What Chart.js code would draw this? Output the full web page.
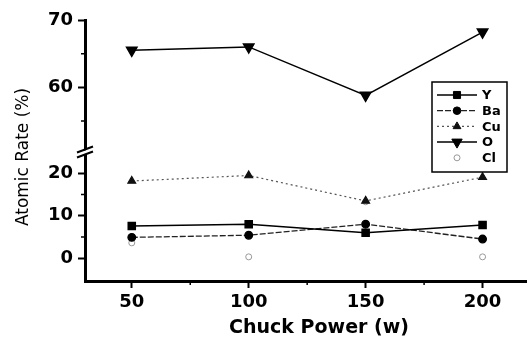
<!DOCTYPE html>
<html>
<head>
<meta charset="utf-8">
<script src="https://cdn.jsdelivr.net/npm/chart.js@4.4.1/dist/chart.umd.min.js"></script>
<style>
  html, body { margin: 0; padding: 0; background: #fff; }
  #chart { display: block; }
</style>
</head>
<body>
<canvas id="chart" width="527" height="340"></canvas>
<script>
// atomic rate (%) vs chuck power (w)
const chuckPower = [50, 100, 150, 200];
const rateY  = [7.6, 8.0, 6.0, 7.8];
const rateBa = [4.9, 5.4, 8.0, 4.5];
const rateCu = [18.2, 19.5, 13.5, 19.1];
const rateO  = [65.5, 66.0, 58.8, 68.2];
const rateCl = [3.6, 0.3, 13.3, 0.3];

const pts = arr => arr.map((v, i) => ({ x: chuckPower[i], y: v }));

const tickFont = { family: 'DejaVu Sans', weight: 'bold', size: 18 };

const datasets = [
    { label: 'Y', data: pts(rateY), yAxisID: 'yBot', borderColor: '#000', borderWidth: 1.5,
      pointStyle: 'rect', pointRadius: 5, pointBackgroundColor: '#000', pointBorderColor: '#000' },
    { label: 'Ba', data: pts(rateBa), yAxisID: 'yBot', borderColor: '#222', borderWidth: 1.3, borderDash: [6, 2],
      pointStyle: 'circle', pointRadius: 3.8, pointBackgroundColor: '#000', pointBorderColor: '#000' },
    { label: 'Cu', data: pts(rateCu), yAxisID: 'yBot', borderColor: '#555', borderWidth: 1.2, borderDash: [2, 3],
      pointStyle: 'triangle', pointRadius: 4.5, pointBackgroundColor: '#111', pointBorderColor: '#111' },
    { label: 'O', data: pts(rateO), yAxisID: 'yTop', borderColor: '#000', borderWidth: 1.5,
      pointStyle: 'triangle', pointRotation: 180, pointRadius: 6, pointBackgroundColor: '#000', pointBorderColor: '#000' },
    { label: 'Cl', data: pts(rateCl), yAxisID: 'yBot', showLine: false,
      pointStyle: 'circle', pointRadius: 3, pointBackgroundColor: '#fff', pointBorderColor: '#999', pointBorderWidth: 1 }
];
datasets.forEach(d => { d.tension = 0; d.fill = false; });

function yAxis(min, max) {
    return {
        type: 'linear', position: 'left', stack: 'rate', stackWeight: 1, min, max,
        ticks: { stepSize: 10, includeBounds: false, color: '#000', font: tickFont, padding: 5 },
        grid: { drawOnChartArea: false, tickLength: 7, tickWidth: 2, tickColor: '#000' },
        border: { width: 3, color: '#000' },
        afterFit(s) { s.width = 85; }
    };
}

// titles, minor ticks, axis break and legend
const decorations = {
    id: 'decorations',
    afterDraw(chart) {
        const ctx = chart.ctx;
        const { x, yTop, yBot } = chart.scales;
        const left = chart.chartArea.left, bottom = chart.chartArea.bottom;
        ctx.save();
        ctx.strokeStyle = '#000';
        ctx.lineWidth = 1.5;

        // minor ticks
        ctx.beginPath();
        [[yTop, 55], [yTop, 65], [yBot, 5], [yBot, 15]].forEach(([s, v]) => {
            const py = s.getPixelForValue(v);
            ctx.moveTo(left - 4, py); ctx.lineTo(left, py);
        });
        [75, 125, 175].forEach(v => {
            const px = x.getPixelForValue(v);
            ctx.moveTo(px, bottom); ctx.lineTo(px, bottom + 4);
        });
        ctx.stroke();

        // axis break
        const by = yTop.bottom;
        ctx.fillStyle = '#fff';
        ctx.beginPath();
        ctx.moveTo(left - 8, by + 3); ctx.lineTo(left + 8, by - 3);
        ctx.lineTo(left + 8, by + 1); ctx.lineTo(left - 8, by + 7);
        ctx.closePath();
        ctx.fill();
        ctx.lineWidth = 2;
        ctx.beginPath();
        ctx.moveTo(left - 8, by + 2); ctx.lineTo(left + 8, by - 4);
        ctx.moveTo(left - 8, by + 7); ctx.lineTo(left + 8, by + 1);
        ctx.stroke();

        // axis titles
        ctx.fillStyle = '#000';
        ctx.textAlign = 'center';
        ctx.textBaseline = 'middle';
        ctx.font = 'bold 19px "DejaVu Sans"';
        ctx.fillText('Chuck Power (w)', 319, 328);
        ctx.save();
        ctx.translate(24, 157);
        ctx.rotate(-Math.PI / 2);
        ctx.font = '17px "DejaVu Sans"';
        ctx.fillText('Atomic Rate (%)', 0, 0);
        ctx.restore();

        // legend
        const lx = 432, ly = 82, lw = 75, lh = 90;
        ctx.fillStyle = '#fff';
        ctx.fillRect(lx, ly, lw, lh);
        ctx.lineWidth = 1.5;
        ctx.strokeRect(lx, ly, lw, lh);
        ctx.font = 'bold 13px "DejaVu Sans"';
        ctx.textAlign = 'left';
        chart.data.datasets.forEach((d, i) => {
            const cy = ly + 13 + i * 15.7;
            if (d.showLine !== false) {
                ctx.save();
                ctx.strokeStyle = d.borderColor;
                ctx.lineWidth = d.borderWidth;
                ctx.setLineDash(d.borderDash || []);
                ctx.beginPath();
                ctx.moveTo(lx + 5, cy); ctx.lineTo(lx + 45, cy);
                ctx.stroke();
                ctx.restore();
            }
            ctx.save();
            ctx.fillStyle = d.pointBackgroundColor;
            ctx.strokeStyle = d.pointBorderColor;
            ctx.lineWidth = d.pointBorderWidth || 1;
            Chart.helpers.drawPoint(ctx, {
                pointStyle: d.pointStyle, rotation: d.pointRotation || 0,
                radius: d.pointRadius, borderWidth: d.pointBorderWidth || 1
            }, lx + 25, cy);
            ctx.restore();
            ctx.fillStyle = '#000';
            ctx.fillText(d.label, lx + 50, cy + 1);
        });
        ctx.restore();
    }
};

new Chart(document.getElementById('chart'), {
    type: 'line',
    data: { datasets },
    options: {
        responsive: false,
        animation: false,
        devicePixelRatio: 1,
        // no extra room for point radii: the x axis runs to the canvas edge
        layout: { autoPadding: false, padding: { top: 20, right: 0, left: 0, bottom: 0 } },
        plugins: { legend: { display: false }, tooltip: { enabled: false } },
        scales: {
            x: {
                type: 'linear', position: 'bottom', min: 30, max: 219,
                ticks: { stepSize: 50, includeBounds: false, color: '#000', font: tickFont, padding: 4 },
                grid: { drawOnChartArea: false, tickLength: 7, tickWidth: 2, tickColor: '#000' },
                border: { width: 3, color: '#000' },
                afterFit(s) { s.height = 59; s.paddingLeft = 0; s.paddingRight = 0; }
            },
            // the stack is laid out bottom-up in definition order
            yBot: yAxis(-5.4, 25.4),
            yTop: yAxis(50.6, 70)
        }
    },
    plugins: [decorations]
});
</script>
</body>
</html>
